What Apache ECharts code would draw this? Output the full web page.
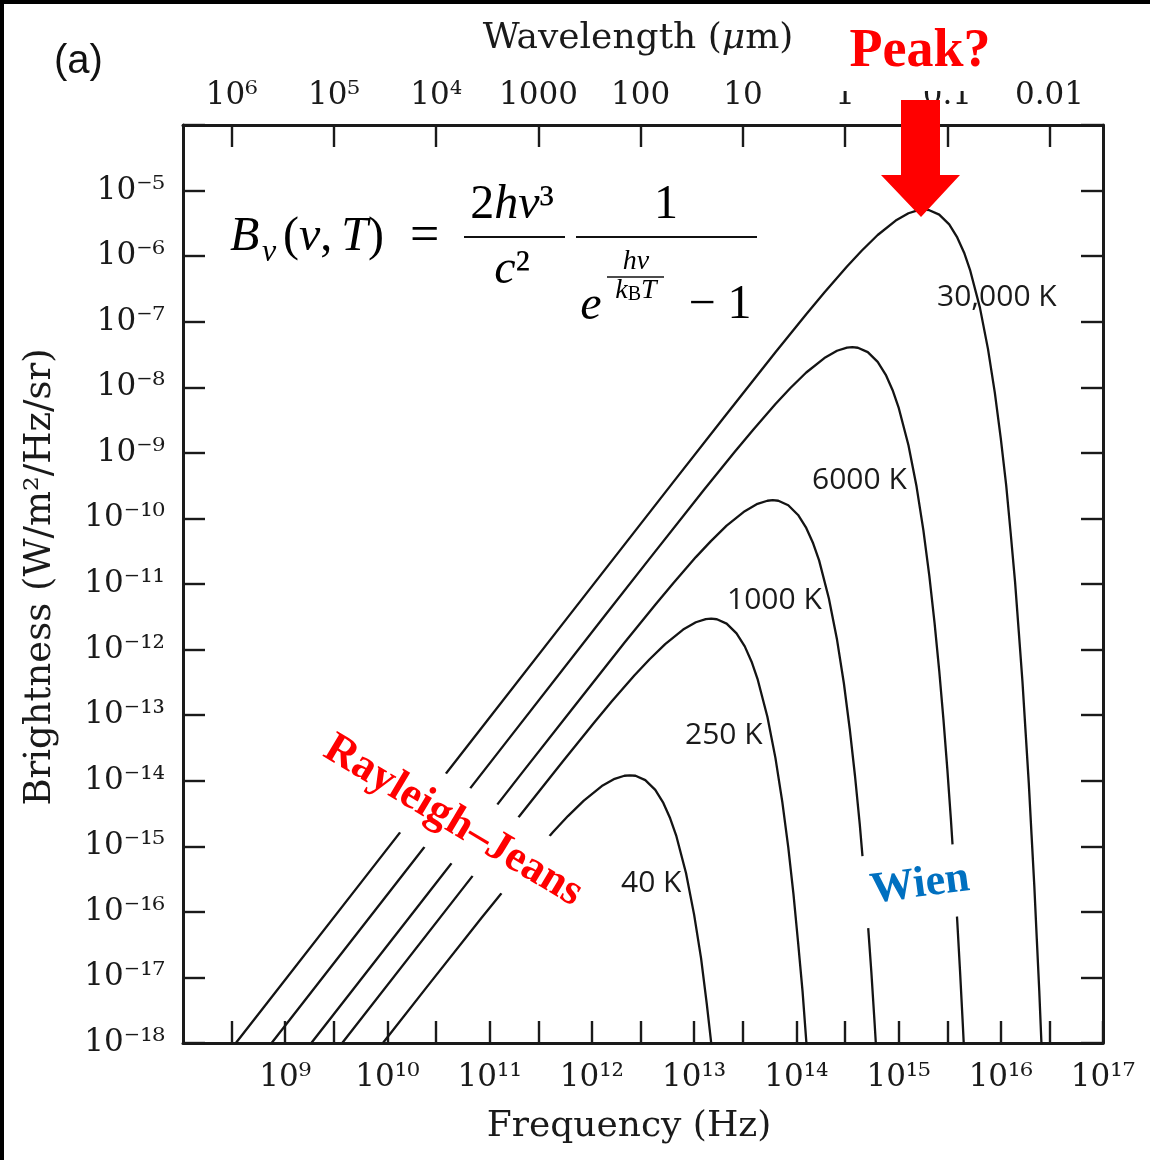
<!DOCTYPE html>
<html>
<head>
<meta charset="utf-8">
<script src="https://cdn.jsdelivr.net/npm/echarts@6/dist/echarts.min.js"></script>
<style>
  html, body { margin: 0; padding: 0; background: #fff; }
  #chart { width: 1150px; height: 1160px; }
</style>
</head>
<body>
<div id="chart"></div>
<script>
// Planck curves: [frequency Hz, brightness W/m2/Hz/sr]
const curve40K = [
  [9.03e9, 1.0e-18], [2.50e10, 7.57e-18], [8.34e10, 8.12e-17], [1.67e11, 3.09e-16],
  [2.50e11, 6.59e-16], [4.17e11, 1.65e-15], [5.83e11, 2.89e-15], [8.34e11, 4.97e-15],
  [1.25e12, 8.28e-15], [1.67e12, 1.07e-14], [2.08e12, 1.19e-14], [2.35e12, 1.21e-14],
  [2.67e12, 1.19e-14], [3.33e12, 1.02e-14], [4.17e12, 7.24e-15], [5.00e12, 4.58e-15],
  [5.83e12, 2.67e-15], [6.67e12, 1.47e-15], [8.34e12, 3.88e-16], [1.00e13, 9.07e-17],
  [1.17e13, 1.95e-17], [1.33e13, 3.94e-18], [1.50e13, 7.58e-19]
];
const curve250K = [
  [3.61e9, 1.0e-18], [5.21e10, 2.07e-16], [1.56e11, 1.85e-15], [5.21e11, 1.98e-14],
  [1.04e12, 7.53e-14], [1.56e12, 1.61e-13], [2.60e12, 4.02e-13], [3.65e12, 7.05e-13],
  [5.21e12, 1.21e-12], [7.81e12, 2.02e-12], [1.04e13, 2.61e-12], [1.30e13, 2.91e-12],
  [1.47e13, 2.96e-12], [1.67e13, 2.90e-12], [2.08e13, 2.49e-12], [2.60e13, 1.77e-12],
  [3.13e13, 1.12e-12], [3.65e13, 6.53e-13], [4.17e13, 3.58e-13], [5.21e13, 9.46e-14],
  [6.25e13, 2.21e-14], [7.29e13, 4.76e-15], [8.34e13, 9.61e-16], [9.38e13, 1.85e-16],
  [1.04e14, 3.44e-17], [1.15e14, 6.19e-18], [1.25e14, 1.09e-18], [1.35e14, 1.87e-19]
];
const curve1000K = [
  [1.80e9, 1.0e-18], [2.08e10, 1.33e-16], [2.08e11, 1.33e-14], [6.25e11, 1.18e-13],
  [2.08e12, 1.27e-12], [4.17e12, 4.82e-12], [6.25e12, 1.03e-11], [1.04e13, 2.57e-11],
  [1.46e13, 4.51e-11], [2.08e13, 7.76e-11], [3.13e13, 1.29e-10], [4.17e13, 1.67e-10],
  [5.21e13, 1.86e-10], [5.88e13, 1.90e-10], [6.67e13, 1.86e-10], [8.34e13, 1.59e-10],
  [1.04e14, 1.13e-10], [1.25e14, 7.16e-11], [1.46e14, 4.18e-11], [1.67e14, 2.29e-11],
  [2.08e14, 6.06e-12], [2.50e14, 1.42e-12], [2.92e14, 3.04e-13], [3.33e14, 6.15e-14],
  [3.75e14, 1.18e-14], [4.17e14, 2.20e-15], [4.58e14, 3.96e-16], [5.00e14, 6.96e-17],
  [5.42e14, 1.20e-17], [5.83e14, 2.02e-18], [6.25e14, 3.37e-19]
];
const curve6000K = [
  [7.36e8, 1.0e-18], [1.25e10, 2.88e-16], [1.25e11, 2.88e-14], [1.25e12, 2.87e-12],
  [3.75e12, 2.55e-11], [1.25e13, 2.74e-10], [2.50e13, 1.04e-9], [3.75e13, 2.22e-9],
  [6.25e13, 5.55e-9], [8.75e13, 9.75e-9], [1.25e14, 1.68e-8], [1.88e14, 2.79e-8],
  [2.50e14, 3.61e-8], [3.13e14, 4.03e-8], [3.53e14, 4.10e-8], [4.00e14, 4.01e-8],
  [5.00e14, 3.44e-8], [6.25e14, 2.44e-8], [7.50e14, 1.55e-8], [8.75e14, 9.02e-9],
  [1.00e15, 4.95e-9], [1.25e15, 1.31e-9], [1.50e15, 3.06e-10], [1.75e15, 6.58e-11],
  [2.00e15, 1.33e-11], [2.25e15, 2.56e-12], [2.50e15, 4.75e-13], [2.75e15, 8.56e-14],
  [3.00e15, 1.50e-14], [3.25e15, 2.59e-15], [3.50e15, 4.37e-16], [3.75e15, 7.28e-17],
  [4.00e15, 1.20e-17], [4.25e15, 1.94e-18], [4.50e15, 3.12e-19]
];
const curve30000K = [
  [3.29e8, 1.0e-18], [6.25e8, 3.60e-18], [6.25e9, 3.60e-16], [6.25e10, 3.60e-14],
  [6.25e11, 3.60e-12], [6.25e12, 3.58e-10], [1.88e13, 3.19e-9], [6.25e13, 3.42e-8],
  [1.25e14, 1.30e-7], [1.88e14, 2.78e-7], [3.13e14, 6.94e-7], [4.38e14, 1.22e-6],
  [6.25e14, 2.10e-6], [9.38e14, 3.49e-6], [1.25e15, 4.51e-6], [1.56e15, 5.03e-6],
  [1.76e15, 5.12e-6], [2.00e15, 5.02e-6], [2.50e15, 4.30e-6], [3.13e15, 3.05e-6],
  [3.75e15, 1.93e-6], [4.38e15, 1.13e-6], [5.00e15, 6.19e-7], [6.25e15, 1.64e-7],
  [7.50e15, 3.82e-8], [8.75e15, 8.22e-9], [1.00e16, 1.66e-9], [1.13e16, 3.20e-10],
  [1.25e16, 5.94e-11], [1.38e16, 1.07e-11], [1.50e16, 1.88e-12], [1.63e16, 3.23e-13],
  [1.75e16, 5.47e-14], [1.88e16, 9.10e-15], [2.00e16, 1.49e-15], [2.13e16, 2.43e-16],
  [2.25e16, 3.90e-17], [2.38e16, 6.20e-18], [2.50e16, 9.79e-19], [2.63e16, 1.53e-19]
];

const curves = [
  { name: '40 K', data: curve40K },
  { name: '250 K', data: curve250K },
  { name: '1000 K', data: curve1000K },
  { name: '6000 K', data: curve6000K },
  { name: '30,000 K', data: curve30000K },
];

// tick positions
const freqMajorTicks = [1e9, 1e10, 1e11, 1e12, 1e13, 1e14, 1e15, 1e16, 1e17];
const freqMinorTicks = [3e8, 3e9, 3e10, 3e11, 3e12, 3e13, 3e14, 3e15, 3e16];
const wavelengthTicks = [3e8, 3e9, 3e10, 3e11, 3e12, 3e13, 3e14, 3e15, 3e16];
const wavelengthLabels = ['10⁶', '10⁵', '10⁴', '1000', '100', '10', '1', '0.1', '0.01'];
const brightnessTicks = [1e-18, 1e-17, 1e-16, 1e-15, 1e-14, 1e-13, 1e-12, 1e-11,
  1e-10, 1e-9, 1e-8, 1e-7, 1e-6, 1e-5, 1e-4];
const brightnessLabels = brightnessTicks.slice(0, 14);

const SUP = { '0': '⁰', '1': '¹', '2': '²', '3': '³', '4': '⁴', '5': '⁵', '6': '⁶', '7': '⁷', '8': '⁸', '9': '⁹', '-': '⁻' };
const powerLabel = (v) => '10' + String(Math.round(Math.log10(v))).split('').map((c) => SUP[c]).join('');

const axisFont = '"DejaVu Serif", serif';
const mathFont = '"Liberation Serif", serif';
const ink = '#1a1a1a';

const frameLine = { show: true, lineStyle: { color: ink, width: 3 } };
const tickStyle = { color: ink, width: 2.4 };
const nameStyle = { fontFamily: axisFont, fontSize: 36, color: ink };

const mathRich = (size) => ({
  i: { fontFamily: mathFont, fontStyle: 'italic', fontSize: size, color: '#111' },
  r: { fontFamily: mathFont, fontSize: size, color: '#111' },
  t: { fontFamily: mathFont, fontStyle: 'italic', fontSize: size, color: '#111', padding: [0, 0, 0, 9] },
  e: { fontFamily: mathFont, fontSize: size + 4, color: '#111', padding: [0, 0, 0, 26] },
  s: { fontFamily: mathFont, fontSize: Math.round(size * 0.7), color: '#111', verticalAlign: 'bottom' },
});

const mathText = (text, x, y, size, align) => ({
  type: 'text',
  x, y, z: 50,
  style: { text, rich: mathRich(size), align: align || 'left', verticalAlign: 'middle' },
});

const hLine = (x1, x2, y, w) => ({
  type: 'line', z: 50,
  shape: { x1, y1: y, x2, y2: y },
  style: { stroke: '#111', lineWidth: w },
});

const curveLabel = (text, x, y) => ({
  type: 'text', x, y, z: 40,
  style: { text, fill: ink, font: '30px "Open Sans", sans-serif', align: 'left', verticalAlign: 'middle' },
});

const buildOption = () => ({
  animation: false,
  backgroundColor: '#fff',
  grid: { left: 183, right: 47, top: 125, bottom: 117, outerBoundsMode: 'none' },
  xAxis: [
    {
      type: 'log', position: 'bottom', min: 1e8, max: 1e17,
      name: 'Frequency (Hz)', nameLocation: 'middle', nameGap: 66,
      nameTextStyle: Object.assign({}, nameStyle, { padding: [0, 28, 0, 0] }),
      axisLine: frameLine,
      axisTick: { inside: true, length: 22, lineStyle: tickStyle, customValues: freqMinorTicks.concat(freqMajorTicks) },
      axisLabel: { customValues: freqMajorTicks, formatter: powerLabel, margin: 19,
        fontFamily: axisFont, fontSize: 31, color: ink },
      splitLine: { show: false },
    },
    {
      type: 'log', position: 'top', min: 1e8, max: 1e17,
      name: 'Wavelength ({it|μ}m)', nameLocation: 'middle', nameGap: 68,
      nameTextStyle: Object.assign({}, nameStyle, {
        padding: [0, 10, 0, 0],
        rich: { it: { fontFamily: axisFont, fontStyle: 'italic', fontSize: 36, color: ink } } }),
      axisLine: frameLine,
      axisTick: { inside: true, length: 22, lineStyle: tickStyle, customValues: wavelengthTicks },
      axisLabel: { customValues: wavelengthTicks, margin: 14,
        formatter: (v) => wavelengthLabels[Math.round(Math.log10(v / 3)) - 8],
        fontFamily: axisFont, fontSize: 31, color: ink },
      splitLine: { show: false },
    },
  ],
  yAxis: [
    {
      type: 'log', position: 'left', min: 1e-18, max: 1e-4,
      name: 'Brightness (W/m²/Hz/sr)', nameLocation: 'middle', nameGap: 124, nameRotate: 90,
      nameTextStyle: Object.assign({}, nameStyle, { fontSize: 37, padding: [0, 0, 0, 14] }),
      axisLine: frameLine,
      axisTick: { inside: true, length: 22, lineStyle: tickStyle, customValues: brightnessTicks },
      axisLabel: { customValues: brightnessLabels, formatter: powerLabel, margin: 18,
        fontFamily: axisFont, fontSize: 31, color: ink },
      splitLine: { show: false },
    },
    {
      type: 'log', position: 'right', min: 1e-18, max: 1e-4,
      axisLine: frameLine,
      axisTick: { inside: true, length: 22, lineStyle: tickStyle, customValues: brightnessTicks },
      axisLabel: { show: false },
      splitLine: { show: false },
    },
  ],
  series: curves.map((c) => ({
    name: c.name,
    type: 'line',
    xAxisIndex: 0,
    yAxisIndex: 0,
    data: c.data,
    showSymbol: false,
    silent: true,
    clip: true,
    lineStyle: { color: '#141414', width: 2.3 },
  })),
  graphic: [
    // black edge of the original scan
    { type: 'rect', z: 200, shape: { x: 0, y: 0, width: 1150, height: 4 }, style: { fill: '#000' } },
    { type: 'rect', z: 200, shape: { x: 0, y: 0, width: 4, height: 1160 }, style: { fill: '#000' } },
    { type: 'text', x: 54, y: 62, z: 50,
      style: { text: '(a)', font: '40px "Liberation Sans", Arial, sans-serif', fill: '#111', verticalAlign: 'middle' } },

    // Planck formula
    mathText('{i|B}', 230, 237, 48),
    mathText('{i|ν}', 262, 253, 32),
    mathText('{r|(}{i|ν}{r|,}{t|T}{r|)}{e|=}', 283, 237, 48),
    mathText('{r|2}{i|hν}{r|³}', 512, 205, 48, 'center'),
    hLine(464, 565, 237, 2.2),
    mathText('{i|c}{r|²}', 512, 270, 48, 'center'),
    mathText('{r|1}', 666, 205, 48, 'center'),
    hLine(576, 757, 237, 2.2),
    mathText('{i|e}', 591, 306, 48, 'center'),
    mathText('{i|hν}', 636, 262, 28, 'center'),
    hLine(607, 664, 277, 1.5),
    mathText('{i|k}{s|B}{i|T}', 636, 291, 28, 'center'),
    mathText('{r|− 1}', 720, 305, 48, 'center'),

    // temperature labels
    curveLabel('30,000 K', 937, 297),
    curveLabel('6000 K', 812, 480),
    curveLabel('1000 K', 727, 600),
    curveLabel('250 K', 685, 735),
    curveLabel('40 K', 621, 883),

    // regime annotations
    { type: 'text', x: 453, y: 821, z: 100, rotation: -31 * Math.PI / 180,
      style: { text: 'Rayleigh–Jeans', font: 'bold 44px "Liberation Serif", serif', fill: '#ff0000',
        align: 'center', verticalAlign: 'middle', backgroundColor: '#fff', padding: [15, 10], lineHeight: 44 } },
    { type: 'text', x: 920, y: 885, z: 100, rotation: 7.5 * Math.PI / 180,
      style: { text: 'Wien', font: 'bold 44px "Liberation Serif", serif', fill: '#0070c0',
        align: 'center', verticalAlign: 'middle', backgroundColor: '#fff', padding: [14, 14], lineHeight: 44 } },
    { type: 'text', x: 920, y: 52, z: 100,
      style: { text: 'Peak?', font: 'bold 54px "Liberation Serif", serif', fill: '#ff0000',
        align: 'center', verticalAlign: 'middle', backgroundColor: '#fff', padding: [4, 16, 20, 16], lineHeight: 54 } },
    { type: 'polygon', z: 110,
      shape: { points: [[901, 100], [940, 100], [940, 175], [960, 175], [921, 217], [881, 175], [901, 175]] },
      style: { fill: '#ff0000' } },
  ],
});

const chart = echarts.init(document.getElementById('chart'), null, { renderer: 'canvas' });
chart.setOption(buildOption());
window.addEventListener('resize', () => chart.resize());
</script>
</body>
</html>
